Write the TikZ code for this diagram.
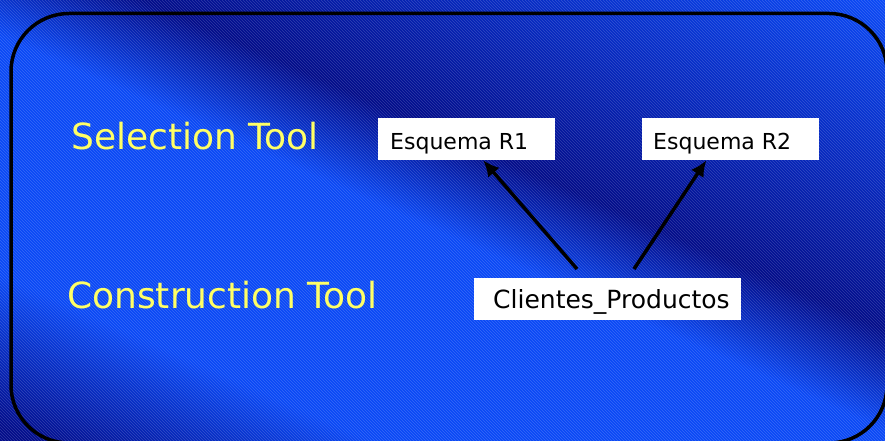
\documentclass[tikz,border=0pt]{standalone}
\usepackage{fontspec}
\setmainfont{DejaVu Sans}
\usetikzlibrary{arrows.meta,patterns}
\definecolor{bgbright}{RGB}{10,72,245}
\definecolor{bgmid}{RGB}{6,42,195}
\definecolor{bgdark}{RGB}{2,12,138}
\definecolor{toolyellow}{RGB}{255,255,102}
\pgfdeclarehorizontalshading{bgshade}{100bp}{color(0bp)=(bgbright); color(17bp)=(bgbright); color(30bp)=(bgmid); color(43bp)=(bgdark); color(51bp)=(bgbright); color(70bp)=(bgbright); color(82bp)=(bgdark); color(100bp)=(bgdark)}
\tikzset{
  tooltext/.style={anchor=base west, inner sep=0pt, text=toolyellow, font=\fontsize{36}{40}\selectfont},
  whitebox/.style={anchor=north west, fill=white, draw=none, minimum height=42pt, inner ysep=0pt, text depth=0pt},
  linkarrow/.style={line width=3.5pt, -{Latex[length=16pt,width=15pt]}},
  frame/.style={line width=3.5pt, rounded corners=58pt}
}
\begin{document}
\begin{tikzpicture}[x=1pt,y=-1pt]
\useasboundingbox (0,0) rectangle (885,441);
\clip (0,0) rectangle (885,441);
\fill[shading=bgshade, shading angle=246] (0,0) rectangle (885,441);
\fill[pattern=north west lines, pattern color=white, opacity=0.18] (0,0) rectangle (885,441);
\draw[frame] (11,13.5) rectangle (887,443);

\node[tooltext] (sel) at (71,149) {Selection Tool};
\node[tooltext] (con) at (67,308) {Construction Tool};

\node[whitebox, inner xsep=12pt, text height=20pt, font=\fontsize{22}{26}\selectfont] (r1) at (378,118) {\makebox[153pt][l]{Esquema R1}};
\node[whitebox, inner xsep=11pt, text height=20pt, font=\fontsize{22}{26}\selectfont] (r2) at (642,118) {\makebox[155pt][l]{Esquema R2}};
\node[whitebox, inner xsep=19pt, text height=18pt, font=\fontsize{25}{30}\selectfont] (cp) at (474,278) {\makebox[229pt][l]{Clientes\_Productos}};

\coordinate (a1) at (577,269);
\coordinate (a2) at (634,269);
\draw[linkarrow] (a1) -- (r1.308);
\draw[linkarrow] (a2) -- (r2.221);
\end{tikzpicture}
\end{document}
